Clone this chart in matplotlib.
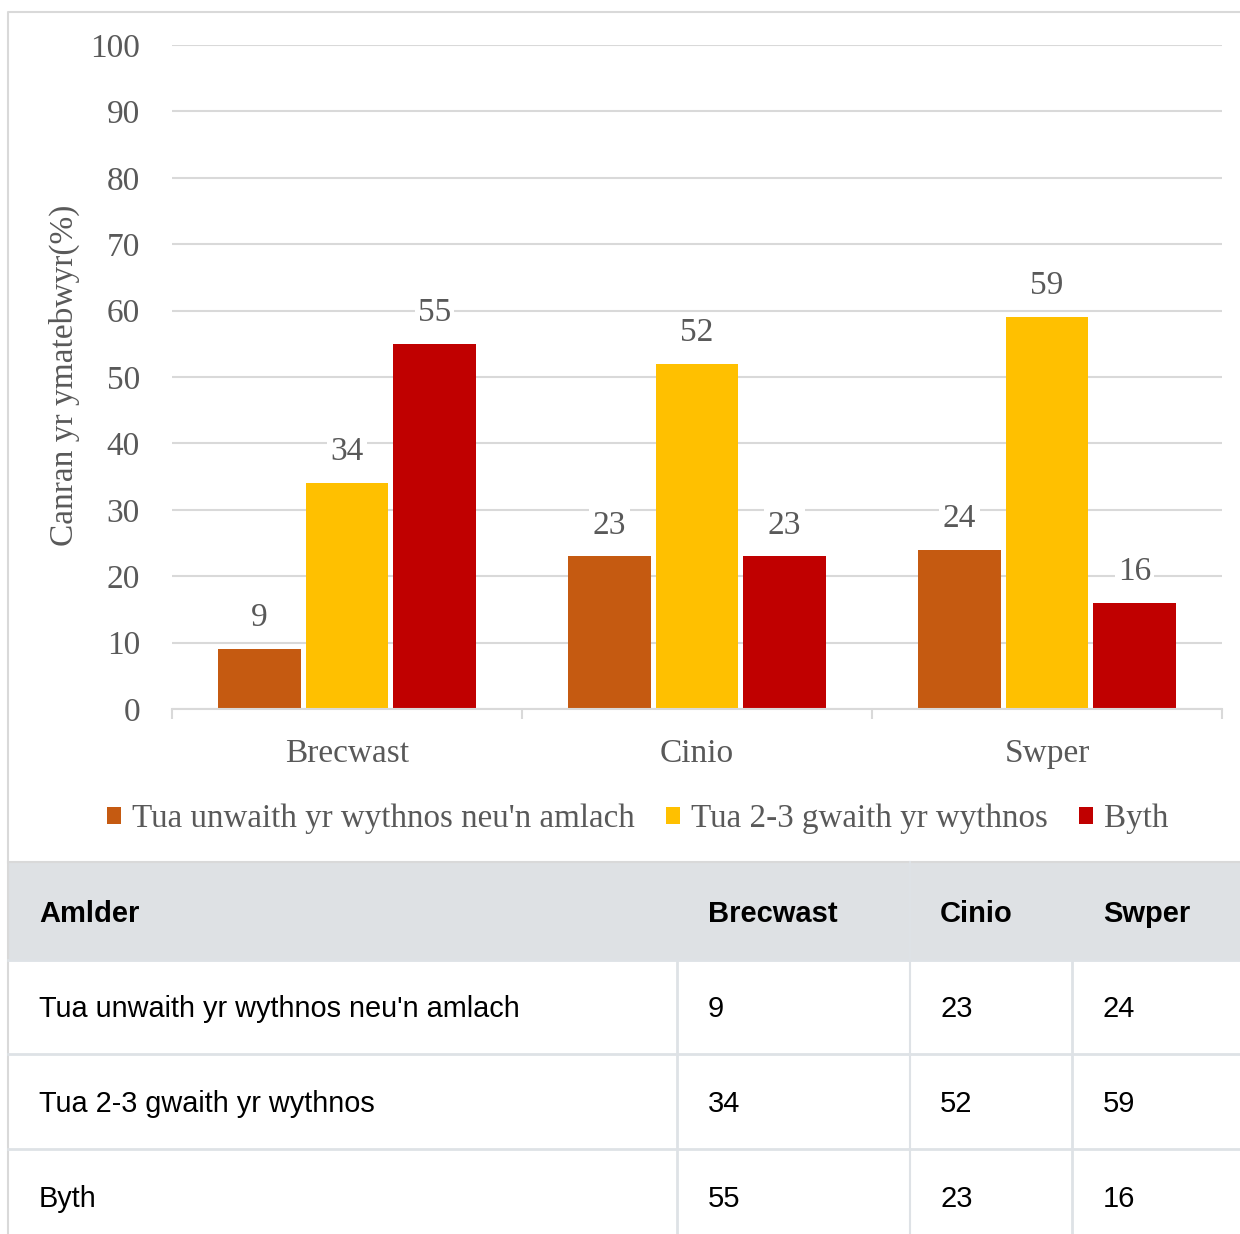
import matplotlib.pyplot as plt
import numpy as np

categories = ['Brecwast', 'Cinio', 'Swper']
series_names = ["Tua unwaith yr wythnos neu'n amlach", 'Tua 2-3 gwaith yr wythnos', 'Byth']
unwaith = [9, 23, 24]
dwy_dair = [34, 52, 59]
byth = [55, 23, 16]
series = [unwaith, dwy_dair, byth]
colors = ['#C55A11', '#FFC000', '#C00000']
yticks = [0, 10, 20, 30, 40, 50, 60, 70, 80, 90, 100]
table_header = ['Amlder', 'Brecwast', 'Cinio', 'Swper']

W, H = 1240, 1234
serif = ['Liberation Serif', 'DejaVu Serif']
sans = ['Liberation Sans', 'DejaVu Sans']
grey_txt = '#595959'

fig = plt.figure(figsize=(W / 100, H / 100), dpi=100)

# background layer in pixel coords (border + table)
bg = fig.add_axes([0, 0, 1, 1])
bg.set_xlim(0, W)
bg.set_ylim(H, 0)
bg.axis('off')

line_c = '#dee2e6'
# chart frame
bg.plot([8, 8, W + 5], [H + 5, 12, 12], color='#d9d9d9', lw=1.5)
bg.plot([8, W], [862, 862], color='#d9d9d9', lw=1.5)

# table
row_tops = [862, 960, 1054, 1149, H + 5]
bg.add_patch(plt.Rectangle((9, 863), W, 97, color='#dee1e4', zorder=0))
for y in row_tops[1:-1]:
    bg.plot([8, W], [y, y], color=line_c, lw=2)
bg.plot([910, 910], [862, H], color=line_c, lw=1.5)
for x in [677, 1072]:
    bg.plot([x, x], [960, H], color=line_c, lw=2)

col_x = [39, 708, 940, 1103]
for x, t in zip(col_x, table_header):
    bg.text(x, 914, t, family=sans, fontsize=21, fontweight='bold',
            color='black', va='center', ha='left')
row_y = [1009, 1104, 1199]
for i, name in enumerate(series_names):
    yc = row_y[i]
    bg.text(col_x[0], yc, name, family=sans, fontsize=20.8, color='black', va='center')
    for j, v in enumerate(series[i]):
        bg.text(col_x[j + 1], yc, str(v), family=sans, fontsize=21, color='black', va='center')

# chart axes
ax = fig.add_axes([172 / W, (H - 709) / H, 1050 / W, 664 / H])
ax.patch.set_alpha(0)
x = np.arange(len(categories))
bw = 0.237
offsets = [-0.25, 0, 0.25]
for vals, off, c, name in zip(series, offsets, colors, series_names):
    bars = ax.bar(x + off, vals, width=bw, color=c, label=name, zorder=3)
    for b, v in zip(bars, vals):
        ax.annotate(str(v), (b.get_x() + b.get_width() / 2, v), xytext=(0, 31),
                    textcoords='offset pixels', ha='center', va='center',
                    family=serif, fontsize=24, color=grey_txt, zorder=2,
                    bbox=dict(boxstyle='square,pad=0.1', fc='white', ec='none'))

ax.set_xlim(-0.5, 2.5)
ax.set_ylim(0, 100)
ax.set_yticks(yticks)
ax.yaxis.grid(True, color='#d9d9d9', lw=1.5, zorder=0)
ax.set_axisbelow(True)
for s in ['top', 'right', 'left']:
    ax.spines[s].set_visible(False)
ax.spines['bottom'].set_color('#d9d9d9')
ax.spines['bottom'].set_linewidth(1.5)
ax.spines['bottom'].set_zorder(4)
ax.tick_params(axis='y', length=0, pad=23, labelsize=24, labelcolor=grey_txt)
ax.set_xticks(x)
ax.set_xticklabels(categories)
ax.set_xticks([-0.5, 0.5, 1.5, 2.5], minor=True)
ax.tick_params(axis='x', which='major', length=0, pad=21, labelsize=24, labelcolor=grey_txt)
ax.tick_params(axis='x', which='minor', length=7, width=1.5, color='#d9d9d9')
for lbl in ax.get_xticklabels() + ax.get_yticklabels():
    lbl.set_family(serif)

ax.set_ylabel('Canran yr ymatebwyr(%)', family=serif, fontsize=24, color=grey_txt)
ax.yaxis.set_label_coords(-(172 - 80) / 1050, (709 - 375) / 664)

leg = fig.legend(loc='center', bbox_to_anchor=(638 / W, (H - 819) / H), ncol=3,
                 frameon=False, prop={'family': serif, 'size': 23.8},
                 handlelength=0.42, handleheight=0.42, handletextpad=0.33,
                 columnspacing=0.95, labelcolor=grey_txt)

fig.savefig('out.png', dpi=100)
